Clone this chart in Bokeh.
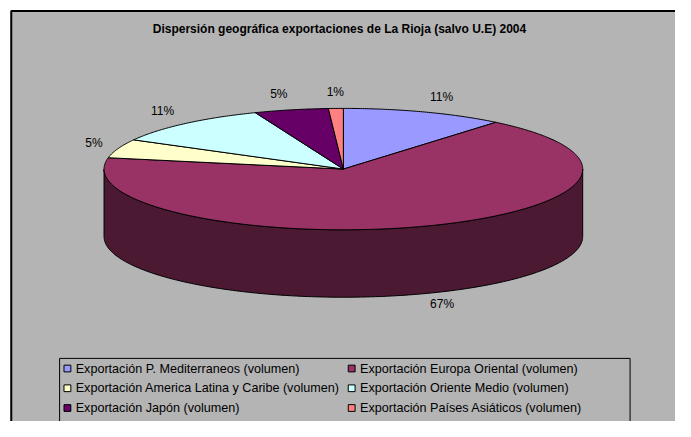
import numpy as np
from bokeh.plotting import figure
from bokeh.models import Range1d
from bokeh.embed import file_html
from bokeh.resources import INLINE
from bokeh.core.properties import value

# ---------------- data ----------------
title_text = "Dispersión geográfica exportaciones de La Rioja (salvo U.E) 2004"
categories = [
    "Exportación P. Mediterraneos (volumen)",
    "Exportación Europa Oriental (volumen)",
    "Exportación America Latina y Caribe (volumen)",
    "Exportación Oriente Medio (volumen)",
    "Exportación Japón (volumen)",
    "Exportación Países Asiáticos (volumen)",
]
values = [11, 67, 5, 11, 5, 1]

# ---------------- style ----------------
palette = ["#9999FF", "#993366", "#FFFFCC", "#CCFFFF", "#660066", "#FF8080"]
FONT = "Liberation Sans"
BG = "#b4b4b4"

W, H = 675, 421
p = figure(width=W, height=H, output_backend="svg", toolbar_location=None,
           x_range=Range1d(0, 691), y_range=Range1d(437, 0),
           min_border=0, min_border_left=0, min_border_right=0,
           min_border_top=0, min_border_bottom=0)
p.axis.visible = False
p.grid.visible = False
p.outline_line_color = None
p.background_fill_color = "white"
p.border_fill_color = "white"

# chart area
p.quad(left=[11], right=[760], top=[11], bottom=[520], fill_color=BG,
       line_color="black", line_width=2)

# title
p.text(x=[347], y=[30], text=[title_text], text_font=value(FONT),
       text_font_style="bold", text_font_size="12px", text_align="center",
       text_baseline="middle", text_color="black")

# ---------------- 3D pie geometry ----------------
cx, cy, rx, ry, depth = 351.0, 175.0, 245.0, 63.0, 70.0
total = float(sum(values))
fracs = np.array(values, dtype=float) / total
ends = np.cumsum(fracs) * 360.0
starts = ends - fracs * 360.0


def ell(theta_deg, dy=0.0):
    t = np.radians(theta_deg)
    return cx + rx * np.sin(t), cy - ry * np.cos(t) + dy


def darker(hexc, k=0.5):
    h = hexc.lstrip("#")
    r, g, b = (int(h[i:i + 2], 16) for i in (0, 2, 4))
    return "#%02x%02x%02x" % (int(r * k), int(g * k), int(b * k))


# side walls (front half, theta 90..270)
for a, b, col in zip(starts, ends, palette):
    lo, hi = max(a, 90.0), min(b, 270.0)
    if hi <= lo:
        continue
    th = np.linspace(lo, hi, 200)
    xt, yt = ell(th)
    xb, yb = ell(th[::-1], depth)
    p.patch(np.concatenate([xt, xb]), np.concatenate([yt, yb]),
            fill_color=darker(col), line_color="black", line_width=1)

# top slices
for a, b, col in zip(starts, ends, palette):
    th = np.linspace(a, b, max(4, int((b - a) * 2)))
    xs, ys = ell(th)
    p.patch(np.concatenate([[cx], xs]), np.concatenate([[cy], ys]),
            fill_color=col, line_color="black", line_width=1)

# percentage labels
d = 17.0
for a, b, v in zip(starts, ends, values):
    m = np.radians((a + b) / 2.0)
    s, c = np.sin(m), -np.cos(m)
    x0, y0 = cx + rx * s, cy + ry * c
    if c > 0:
        y0 += depth - 5
    lx, ly = x0 + d * s, y0 + d * c
    align = "left" if s > 0.1 else ("right" if s < -0.1 else "center")
    p.text(x=[lx], y=[ly], text=["%d%%" % round(100 * v / total)],
           text_font=value(FONT), text_font_size="12px", text_align=align,
           text_baseline="middle", text_color="black")

# ---------------- legend ----------------
p.quad(left=[60.5], right=[644.5], top=[371.5], bottom=[520], fill_color=BG,
       line_color="black", line_width=1)
col_x = [65, 356]
row_y = [382, 402.5, 423]
for i, (name, col) in enumerate(zip(categories, palette)):
    r, k = divmod(i, 2)
    mx, my = col_x[k], row_y[r]
    p.quad(left=[mx], right=[mx + 7], top=[my - 3.5], bottom=[my + 3.5],
           fill_color=col, line_color="black", line_width=1)
    p.text(x=[mx + 12], y=[my], text=[name], text_font=value(FONT),
           text_font_size="12.6px", text_align="left", text_baseline="middle",
           text_color="black")

open("out.html", "w").write(file_html(p, INLINE))
